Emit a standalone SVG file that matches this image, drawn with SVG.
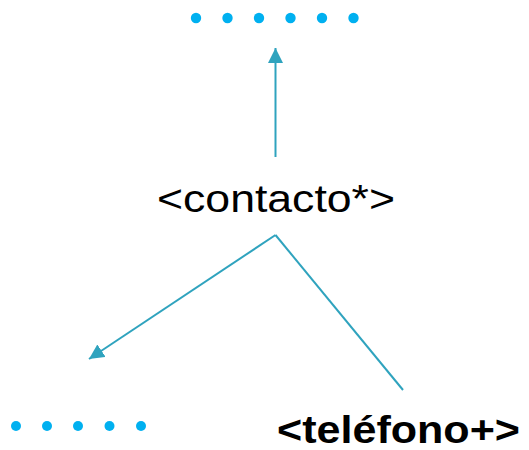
<svg xmlns="http://www.w3.org/2000/svg" width="529" height="450" viewBox="0 0 529 450">
<defs>
<style>
.dot{fill:#00b0f0}
.edge{stroke:#2fa3be;stroke-width:2;fill:none}
.lbl{font-family:"Liberation Sans",Arial,sans-serif;fill:#000}
</style>
<marker id="ah" viewBox="0 0 10 10" refX="10" refY="5" markerWidth="7.5" markerHeight="7.5" markerUnits="strokeWidth" orient="auto">
<path d="M0,0 L10,5 L0,10 z" fill="#2fa3be"/>
</marker>
</defs>
<rect width="529" height="450" fill="#fff"/>
<g id="connectors">
<line class="edge" x1="275.5" y1="157" x2="275.5" y2="48" marker-end="url(#ah)"/>
<line class="edge" x1="275.5" y1="235" x2="89" y2="359" marker-end="url(#ah)"/>
<line class="edge" x1="275.5" y1="235" x2="403" y2="390"/>
</g>
<g id="node-top-dots">
<circle class="dot" cx="196" cy="18" r="5.2"/>
<circle class="dot" cx="227.5" cy="18" r="5.2"/>
<circle class="dot" cx="259" cy="18" r="5.2"/>
<circle class="dot" cx="290.5" cy="18" r="5.2"/>
<circle class="dot" cx="322" cy="18" r="5.2"/>
<circle class="dot" cx="353.5" cy="18" r="5.2"/>
</g>
<g id="node-contacto">
<text class="lbl" x="157" y="212" font-size="38" textLength="238" lengthAdjust="spacingAndGlyphs">&lt;contacto*&gt;</text>
</g>
<g id="node-bottom-dots">
<circle class="dot" cx="16" cy="426" r="5"/>
<circle class="dot" cx="47" cy="426" r="5"/>
<circle class="dot" cx="78" cy="426" r="5"/>
<circle class="dot" cx="109.5" cy="426" r="5"/>
<circle class="dot" cx="141" cy="426" r="5"/>
</g>
<g id="node-telefono">
<text class="lbl" x="277" y="443" font-size="38" font-weight="bold" textLength="243" lengthAdjust="spacingAndGlyphs">&lt;teléfono+&gt;</text>
</g>
</svg>
